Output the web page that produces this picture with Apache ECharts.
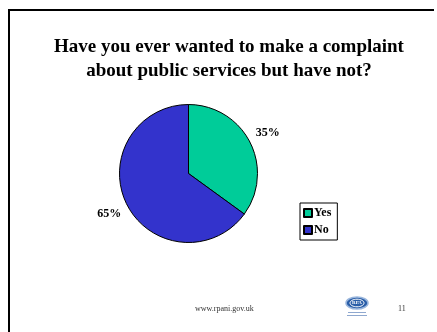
<!DOCTYPE html>
<html><head><meta charset="utf-8">
<script src="https://cdn.jsdelivr.net/npm/echarts@6/dist/echarts.min.js"></script>
<style>html,body{margin:0;padding:0;background:#fff}#c{width:437px;height:332px}</style>
</head><body><div id="c"></div>
<script>
const titleText = 'Have you ever wanted to make a complaint\nabout public services but have not?';
const categories = ['Yes', 'No'];
const values = [35, 65];
const colors = ['#00CC99', '#3333CC'];
const footerUrl = 'www.rpani.gov.uk';
const pageNumber = '11';

const chart = echarts.init(document.getElementById('c'), null, {renderer: 'canvas'});
const pieData = categories.map((c, i) => ({name: c, value: values[i], itemStyle: {color: colors[i]}}));
const serif = '"Liberation Serif", "Times New Roman", serif';
chart.setOption({
  animation: false,
  backgroundColor: '#fff',
  title: {
    text: titleText, left: 224, top: 30, textAlign: 'center',
    textStyle: {fontFamily: serif, fontWeight: 'bold', fontSize: 19, lineHeight: 24, color: '#000'}
  },
  legend: {
    data: categories, orient: 'vertical', left: 300, top: 203,
    itemWidth: 8, itemHeight: 8, itemGap: 5, padding: [4, 6, 4, 3],
    borderColor: '#000', borderWidth: 1, icon: 'rect', selectedMode: false,
    textStyle: {fontFamily: serif, fontWeight: 'bold', fontSize: 12, color: '#000', padding: [0, 0, 0, -3]}
  },
  series: [{
    type: 'pie', radius: 69, center: [188.5, 173.5], startAngle: 90, clockwise: true,
    data: pieData, label: {show: false}, labelLine: {show: false},
    itemStyle: {borderColor: '#000', borderWidth: 1}, emphasis: {disabled: true}, silent: true
  }, {
    type: 'pie', radius: [69, 103], center: [188.5, 173.5], startAngle: 90, clockwise: true,
    data: pieData.map(d => ({name: d.name, value: d.value, itemStyle: {color: 'rgba(0,0,0,0)'}})),
    label: {show: true, position: 'inside', formatter: '{c}%', fontFamily: serif, fontWeight: 'bold', fontSize: 12, color: '#000'},
    labelLine: {show: false}, emphasis: {disabled: true}, silent: true, z: 1
  }],
  graphic: [
    {type: 'rect', shape: {x: 8, y: 9, width: 426, height: 2}, style: {fill: '#000'}},
    {type: 'rect', shape: {x: 8, y: 9, width: 2, height: 323}, style: {fill: '#000'}},
    {type: 'text', left: 195, top: 305, style: {text: footerUrl, font: '8px ' + serif, fill: '#333'}},
    {type: 'text', left: 398, top: 305, style: {text: pageNumber, font: '8px ' + serif, fill: '#333'}},
    {type: 'ellipse', shape: {cx: 357, cy: 303, rx: 11, ry: 6}, style: {fill: '#2a5ea8', stroke: '#9bb7dd', lineWidth: 1.5}},
    {type: 'ellipse', shape: {cx: 357, cy: 303, rx: 7, ry: 3.8}, style: {fill: 'none', stroke: '#fff', lineWidth: 1}},
    {type: 'text', x: 357, y: 303, style: {text: 'RPA', font: 'bold 5px ' + serif, fill: '#fff', align: 'center', verticalAlign: 'middle'}},
    {type: 'rect', shape: {x: 348, y: 312, width: 18, height: 1}, style: {fill: '#8fa8cf'}},
    {type: 'rect', shape: {x: 347, y: 315, width: 20, height: 1}, style: {fill: '#8fa8cf'}}
  ]
});
</script></body></html>
